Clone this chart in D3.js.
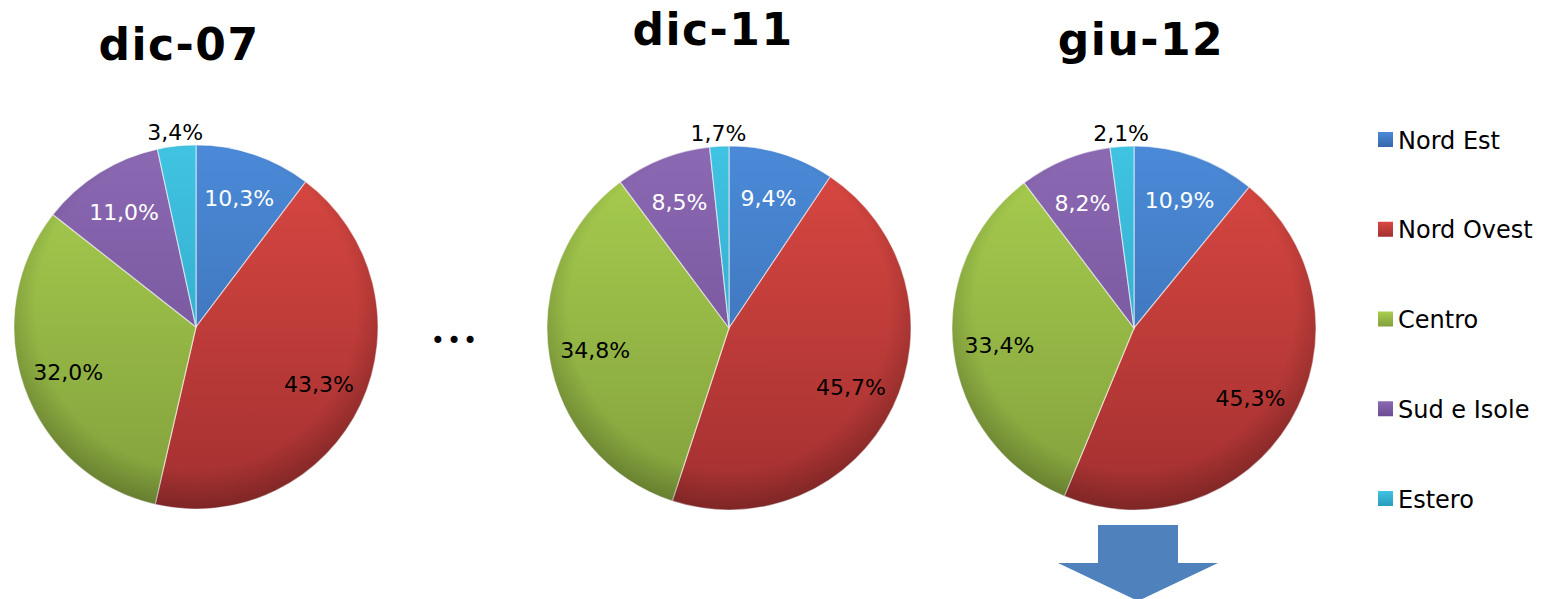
<!DOCTYPE html>
<html>
<head>
<meta charset="utf-8">
<script src="https://cdn.jsdelivr.net/npm/d3@7"></script>
<style>
  html, body { margin: 0; padding: 0; background: #fff; }
  svg { display: block; }
</style>
</head>
<body>
<svg id="chart" width="1546" height="599"></svg>
<script>
// Regional breakdown (percent) at three dates
const regions = ["Nord Est", "Nord Ovest", "Centro", "Sud e Isole", "Estero"];
const periods = ["dic-07", "dic-11", "giu-12"];
const shareDic07 = [10.3, 43.3, 32.0, 11.0, 3.4];
const shareDic11 = [9.4, 45.7, 34.8, 8.5, 1.7];
const shareGiu12 = [10.9, 45.3, 33.4, 8.2, 2.1];
const seriesByPeriod = [shareDic07, shareDic11, shareGiu12];

const W = 1546, H = 599;
const svg = d3.select("#chart");
const defs = svg.append("defs");

// Light / dark tones per region for the bevelled look
const topTone = ["#4b8ad8", "#db4842", "#a8ce4f", "#8c69b3", "#40c3e2"];
const botTone = ["#3768a8", "#a23030", "#82a03c", "#6b4c90", "#2b9cbd"];

const R = 182;
const gradId = i => "g" + i;
regions.forEach((r, i) => {
  const g = defs.append("linearGradient")
    .attr("id", gradId(i))
    .attr("gradientUnits", "userSpaceOnUse")
    .attr("x1", 0).attr("y1", -R).attr("x2", 0).attr("y2", R);
  g.append("stop").attr("offset", "0%").attr("stop-color", topTone[i]);
  g.append("stop").attr("offset", "100%").attr("stop-color", botTone[i]);

  const s = defs.append("linearGradient")
    .attr("id", "sw" + i)
    .attr("x1", 0).attr("y1", 0).attr("x2", 0).attr("y2", 1);
  s.append("stop").attr("offset", "0%").attr("stop-color", topTone[i]);
  s.append("stop").attr("offset", "100%").attr("stop-color", botTone[i]);
});

// Rim shading laid over each pie
const rim = defs.append("radialGradient").attr("id", "rim")
  .attr("cx", "50%").attr("cy", "45%").attr("r", "55%");
rim.append("stop").attr("offset", "0%").attr("stop-color", "#000").attr("stop-opacity", 0);
rim.append("stop").attr("offset", "80%").attr("stop-color", "#000").attr("stop-opacity", 0);
rim.append("stop").attr("offset", "100%").attr("stop-color", "#000").attr("stop-opacity", 0.22);

// Pie placement
const centerX = d3.scaleOrdinal().domain(periods).range([196, 729, 1134]);
const centerY = d3.scaleOrdinal().domain(periods).range([327, 328, 328]);
const titleX = d3.scaleOrdinal().domain(periods).range([179, 713, 1141]);
const titleY = d3.scaleOrdinal().domain(periods).range([60, 45, 55]);

const pie = d3.pie().sort(null).value(d => d);
const arc = d3.arc().innerRadius(0).outerRadius(R);
const labelArc = d3.arc().innerRadius(R * 0.745).outerRadius(R * 0.745);
const outerLabelArc = d3.arc().innerRadius(R * 1.075).outerRadius(R * 1.075);
const fmt = v => d3.format(".1f")(v).replace(".", ",") + "%";

// Label colour: white on darker blue/purple slices, black elsewhere
const labelColor = ["#fff", "#000", "#000", "#fff", "#000"];

periods.forEach((p, k) => {
  const values = seriesByPeriod[k];
  svg.append("text")
    .attr("x", titleX(p)).attr("y", titleY(p))
    .attr("text-anchor", "middle")
    .attr("font-family", "DejaVu Sans, sans-serif")
    .attr("font-weight", "bold")
    .attr("font-size", 44)
    .attr("letter-spacing", 1.5)
    .attr("fill", "#000")
    .text(p);

  const g = svg.append("g")
    .attr("transform", `translate(${centerX(p)},${centerY(p)})`);
  const arcs = pie(values);

  g.selectAll("path.slice").data(arcs).join("path")
    .attr("class", "slice")
    .attr("d", arc)
    .attr("fill", (d, i) => `url(#${gradId(i)})`)
    .attr("stroke", "rgba(255,255,255,0.55)")
    .attr("stroke-width", 1.2);

  g.append("circle").attr("r", R).attr("fill", "url(#rim)").attr("pointer-events", "none");

  g.selectAll("text.lbl").data(arcs).join("text")
    .attr("class", "lbl")
    .attr("transform", (d, i) => {
      const c = (i === 4 ? outerLabelArc : labelArc).centroid(d);
      return `translate(${c[0]},${c[1]})`;
    })
    .attr("text-anchor", "middle")
    .attr("dy", "0.36em")
    .attr("font-family", "DejaVu Sans, sans-serif")
    .attr("font-size", 22)
    .attr("fill", (d, i) => labelColor[i])
    .text(d => fmt(d.data));
});

// Ellipsis between the first and second pie
svg.append("text")
  .attr("x", 455).attr("y", 349)
  .attr("text-anchor", "middle")
  .attr("font-family", "DejaVu Sans, sans-serif")
  .attr("font-size", 24)
  .attr("letter-spacing", 2)
  .attr("fill", "#000")
  .text("•••");

// Legend
const legendY = d3.scalePoint().domain(regions).range([140, 499]);
const leg = svg.append("g");
regions.forEach((r, i) => {
  leg.append("rect")
    .attr("x", 1378).attr("y", legendY(r) - 8)
    .attr("width", 15).attr("height", 15)
    .attr("fill", `url(#sw${i})`);
  leg.append("text")
    .attr("x", 1398).attr("y", legendY(r))
    .attr("dy", "0.36em")
    .attr("font-family", "DejaVu Sans, sans-serif")
    .attr("font-size", 24)
    .attr("fill", "#000")
    .text(r);
});

// Down arrow under the last pie
const ax = 1138;
const arrow = d3.path();
arrow.moveTo(ax - 40, 525);
arrow.lineTo(ax + 40, 525);
arrow.lineTo(ax + 40, 563);
arrow.lineTo(ax + 80, 563);
arrow.lineTo(ax, 601);
arrow.lineTo(ax - 80, 563);
arrow.lineTo(ax - 40, 563);
arrow.closePath();
svg.append("path").attr("d", arrow.toString()).attr("fill", "#4f81bd");
</script>
</body>
</html>
